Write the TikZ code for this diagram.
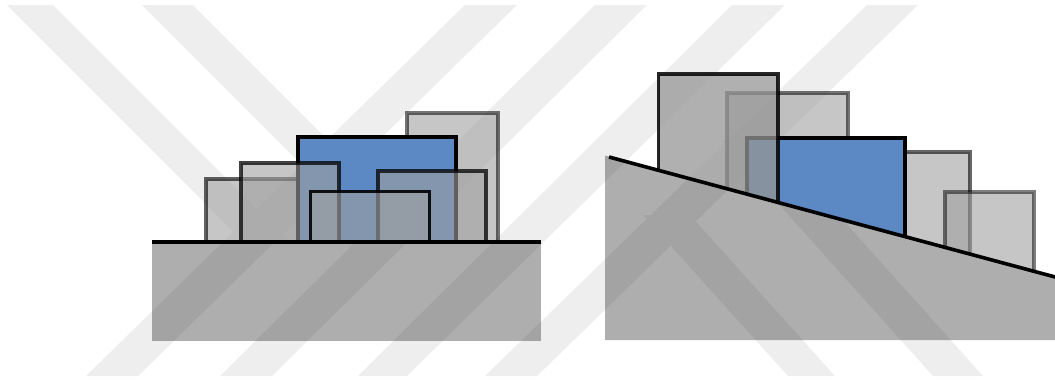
\documentclass[tikz,border=0pt]{standalone}
\definecolor{groundgray}{RGB}{174,174,174}
\definecolor{boxgray}{RGB}{160,160,160}
\definecolor{blockblue}{RGB}{92,136,196}
\tikzset{
  box/.style={fill=boxgray, fill opacity=0.6, draw=black, draw opacity=#1, line width=3.8pt},
  box/.default=0.6,
  darkbox/.style={fill=boxgray!94!black, fill opacity=0.75, draw=black, draw opacity=0.85, line width=3.8pt},
  blockbox/.style={fill=blockblue, draw=black, line width=4pt},
  ground/.style={fill=groundgray, draw=none},
  surface/.style={draw=black, line width=3.6pt},
  wmark/.style={fill=black, fill opacity=#1, draw=none},
  wmark/.default=0.065
}
\newcommand{\wmbands}{
  (465,5) -- (517,5) -- (138,376) -- (86,376) -- cycle
  (595,5) -- (647,5) -- (272,376) -- (220,376) -- cycle
  (732,5) -- (785,5) -- (407,376) -- (358,376) -- cycle
  (867,5) -- (918,5) -- (537,376) -- (485,376) -- cycle
  (7,5) -- (53,5) -- (288,240) -- (242,240) -- cycle
  (142,5) -- (193,5) -- (428,240) -- (377,240) -- cycle
  (643,215) -- (690,215) -- (835,376) -- (788,376) -- cycle
  (721,140) -- (771,140) -- (983,376) -- (933,376) -- cycle}
\begin{document}
\begin{tikzpicture}[x=1pt,y=-1pt]
\useasboundingbox (0,0) rectangle (1055,381);

% ---------- watermark (background) ----------
\fill[wmark=0.068] \wmbands;

% ---------- left panel: flat surface ----------
\coordinate (gl1) at (152,242);
\coordinate (gl2) at (541,242);
\draw[box=0.62] (206,242) rectangle (330,179);      % A
\draw[box=0.55] (407,242) rectangle (498,113);      % C
\draw[blockbox] (297.5,242) rectangle (455.5,137);  % blue block
\draw[box=0.75] (241,242) rectangle (339,163);      % B
\draw[box=0.75] (378,242) rectangle (486,171);      % D
\draw[box=0.9] (310.5,242) rectangle (429.5,191.5); % E
\fill[ground] (152,242) rectangle (541,341);

% ---------- right panel: inclined surface ----------
\coordinate (gr1) at (609,157);
\coordinate (gr2) at (1060,278.3);
\draw[box=0.55] (727,330) rectangle (848,93);       % R2
\draw[box=0.6] (890,330) rectangle (970,152);       % R4
\draw[blockbox] (747,330) rectangle (905,137.5);    % blue block
\draw[darkbox] (658.5,330) rectangle (778,74);      % R1
\draw[box=0.5] (945,330) rectangle (1034,192);      % R5
\fill[ground] (605,155.5) -- (1060,278) -- (1060,340) -- (605,340) -- cycle;

% ---------- watermark over the ground ----------
\begin{scope}
  \clip (152,242) rectangle (541,341)
        (605,155.5) -- (1060,278) -- (1060,340) -- (605,340) -- cycle;
  \fill[wmark=0.06] \wmbands;
\end{scope}

\draw[surface] (gl1) -- (gl2);
\draw[surface] (gr1) -- (gr2);
\end{tikzpicture}
\end{document}
